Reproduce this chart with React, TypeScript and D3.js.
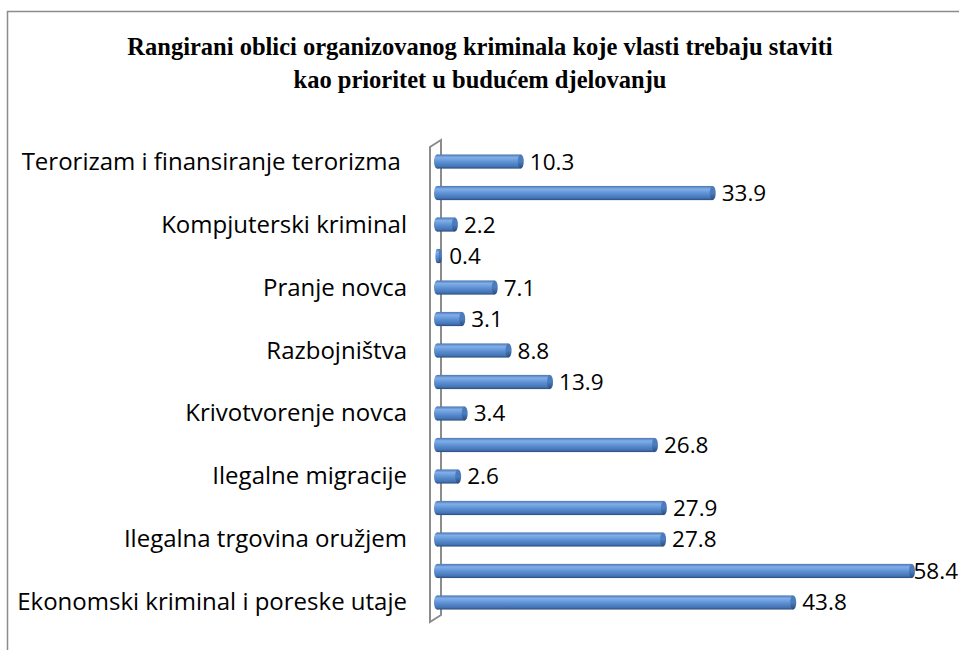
import * as d3 from 'd3';

// chart data (15 bars, Excel shows every other category name)
const categories = [
  'Terorizam i finansiranje terorizma ',
  '',
  'Kompjuterski kriminal',
  '',
  'Pranje novca',
  '',
  'Razbojništva',
  '',
  'Krivotvorenje novca',
  '',
  'Ilegalne migracije',
  '',
  'Ilegalna trgovina oružjem',
  '',
  'Ekonomski kriminal i poreske utaje',
];
const values = [10.3, 33.9, 2.2, 0.4, 7.1, 3.1, 8.8, 13.9, 3.4, 26.8, 2.6, 27.9, 27.8, 58.4, 43.8];
const titleLines = [
  'Rangirani oblici organizovanog kriminala koje vlasti trebaju staviti',
  'kao prioritet u budućem djelovanju',
];

const W = 959;
const H = 650;
const labelFont = '"Open Sans", Lato, sans-serif';

export default function App() {
  const idx = categories.map((_, i) => i);

  const x = d3.scaleLinear().domain([0, 60]).range([437, 925]);
  const y = d3.scaleBand<number>().domain(idx).range([145, 619]).paddingInner(0.55).paddingOuter(0.3);

  const [y0, y1] = y.range();
  const bh = y.bandwidth();
  // 3d axis wall
  const wallX = 430;
  const depthX = 11;
  const depthY = 7;

  return (
    <svg width={W} height={H} style={{ position: 'absolute', left: 0, top: 0, display: 'block' }}>
      <defs>
        <linearGradient id="bar" x1="0" y1="0" x2="0" y2="1">
          <stop offset="0%" stopColor="#4a78b6" />
          <stop offset="22%" stopColor="#82aee8" />
          <stop offset="55%" stopColor="#5b8fd2" />
          <stop offset="85%" stopColor="#4474b4" />
          <stop offset="100%" stopColor="#2b4b7e" />
        </linearGradient>
        <linearGradient id="cap" x1="0" y1="0" x2="0" y2="1">
          <stop offset="0%" stopColor="#5079b5" />
          <stop offset="50%" stopColor="#4a7dc0" />
          <stop offset="100%" stopColor="#2a4a78" />
        </linearGradient>
      </defs>
      <rect x={0} y={0} width={W} height={H} fill="#fff" />
      <rect x={7.5} y={11.5} width={W + 20} height={H + 20} fill="none" stroke="#8c8c8c" strokeWidth={1.5} />

      {titleLines.map((t, i) => (
        <text
          key={i}
          x={480}
          y={55 + i * 33}
          textAnchor="middle"
          fontFamily='"Liberation Serif", "DejaVu Serif", serif'
          fontWeight="bold"
          fontSize={24.5}
          fill="#000"
        >
          {t}
        </text>
      ))}

      {/* axis wall */}
      <path
        d={`M${wallX},${y0 + 2} L${wallX},${y1 + 3} L${wallX + depthX},${y1 + 3 - depthY} L${wallX + depthX},${y0 + 2 - depthY} Z`}
        fill="none"
        stroke="#8c8c8c"
        strokeWidth={2}
      />

      {/* bars */}
      {values.map((v, i) => {
        const by = y(i) as number;
        const xe = x(v);
        const rx = Math.min(3, (xe - x(0)) / 2);
        return (
          <g key={i}>
            <rect x={x(0)} y={by} width={Math.max(0, xe - x(0))} height={bh} fill="url(#bar)" />
            <ellipse cx={x(0)} cy={by + bh / 2} rx={rx} ry={bh / 2} fill="url(#bar)" />
            <ellipse cx={xe} cy={by + bh / 2} rx={rx} ry={bh / 2} fill="url(#cap)" />
          </g>
        );
      })}

      {/* value labels */}
      {values.map((v, i) => {
        const by = (y(i) as number) + bh / 2;
        const lx = x(v) + 9;
        const over = lx + 48 > W;
        return (
          <text
            key={i}
            x={over ? W - 1 : lx}
            y={by + 8}
            textAnchor={over ? 'end' : 'start'}
            fontFamily={labelFont}
            fontSize={22.5}
            fill="#000"
          >
            {v.toFixed(1)}
          </text>
        );
      })}

      {/* category labels */}
      {categories.map((c, i) =>
        c ? (
          <text
            key={i}
            x={407}
            y={(y(i) as number) + bh / 2 + 8}
            textAnchor="end"
            fontFamily={labelFont}
            fontSize={24}
            fill="#000"
            style={{ whiteSpace: 'pre' }}
          >
            {c}
          </text>
        ) : null
      )}
    </svg>
  );
}
